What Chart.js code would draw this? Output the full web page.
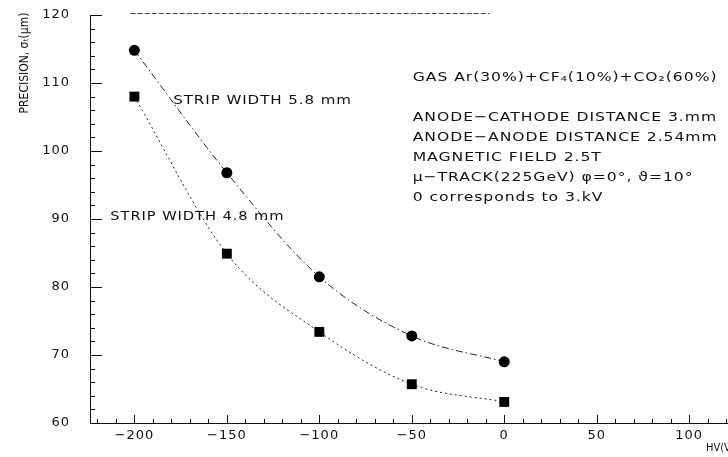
<!DOCTYPE html>
<html>
<head>
<meta charset="utf-8">
<script src="https://cdn.jsdelivr.net/npm/chart.js@4"></script>
<style>
  html, body { margin: 0; padding: 0; background: #fff; }
  #wrap { width: 728px; height: 457px; }
</style>
</head>
<body>
<div id="wrap"><canvas id="precisionChart" width="728" height="457"></canvas></div>
<script>
// HV offset in volts (0 corresponds to 3 kV)
const hv = [-200, -150, -100, -50, 0];
// precision sigma in microns for the two strip widths
const strip58 = [114.8, 96.8, 81.5, 72.8, 69.0];
const strip48 = [108.0, 84.9, 73.4, 65.7, 63.1];
const xTicks = [-200, -150, -100, -50, 0, 50, 100];
const yTicks = [60, 70, 80, 90, 100, 110, 120];
const seriesNames = ["STRIP WIDTH 5.8 mm", "STRIP WIDTH 4.8 mm"];
const conditions = [
  "GAS Ar(30%)+CF\u2084(10%)+CO\u2082(60%)",
  "ANODE\u2212CATHODE DISTANCE 3.mm",
  "ANODE\u2212ANODE DISTANCE 2.54mm",
  "MAGNETIC FIELD 2.5T",
  "\u03bc\u2212TRACK(225GeV) \u03c6=0\u00b0, \u03d1=10\u00b0",
  "0 corresponds to 3.kV"
];

const INK = "#111";
const FONT = "'DejaVu Sans', Verdana, sans-serif";

// draws text stretched horizontally
function wideText(ctx, text, x, y, sx) {
  ctx.save();
  ctx.translate(x, y);
  ctx.scale(sx, 1);
  ctx.fillText(text, 0, 0);
  ctx.restore();
}

// strip the automatic label padding so the plot box stays where we put it
function noPad(s) {
  s.paddingLeft = s.paddingRight = s.paddingTop = s.paddingBottom = 0;
}

const frameMarks = {
  id: "frameMarks",
  beforeDraw(chart) {
    chart.ctx.letterSpacing = "1px";
  },
  afterDraw(chart) {
    const { ctx, chartArea: a, scales: { x, y } } = chart;
    ctx.save();
    ctx.strokeStyle = INK;
    ctx.lineWidth = 1;

    // inward ticks on both axes
    ctx.beginPath();
    for (let v = 60; v <= 120; v += 2) {
      const py = Math.round(y.getPixelForValue(v)) + 0.5;
      const len = v % 10 === 0 ? 12 : 5;
      ctx.moveTo(a.left, py);
      ctx.lineTo(a.left + len, py);
    }
    for (let v = -220; v <= 120; v += 10) {
      const px = Math.round(x.getPixelForValue(v)) + 0.5;
      const len = v % 50 === 0 ? 8 : 4;
      ctx.moveTo(px, a.bottom);
      ctx.lineTo(px, a.bottom - len);
    }
    ctx.stroke();

    // broken top frame line
    ctx.strokeStyle = "#444";
    ctx.setLineDash([5, 2]);
    ctx.beginPath();
    ctx.moveTo(x.getPixelForValue(-202), a.top - 1.5);
    ctx.lineTo(x.getPixelForValue(-8), a.top - 1.5);
    ctx.stroke();
    ctx.setLineDash([]);

    ctx.fillStyle = INK;
    ctx.textBaseline = "middle";
    ctx.textAlign = "left";
    ctx.letterSpacing = "0.8px";
    ctx.font = "13px " + FONT;

    // curve labels
    wideText(ctx, seriesNames[0], x.getPixelForValue(-179), y.getPixelForValue(107.4), 1.16);
    wideText(ctx, seriesNames[1], x.getPixelForValue(-213), y.getPixelForValue(90.3), 1.13);

    // run conditions block
    const bx = x.getPixelForValue(-49.5);
    conditions.forEach((line, i) => {
      const py = a.top + 63 + (i === 0 ? 0 : 20 + 20 * i);
      wideText(ctx, line, bx, py, 1.2);
    });

    // axis titles
    ctx.letterSpacing = "0px";
    ctx.font = "11px 'DejaVu Sans Condensed', 'Liberation Sans Narrow', sans-serif";
    ctx.fillText("HV(V)", 706, 448);
    ctx.save();
    ctx.translate(25, 63);
    ctx.rotate(-Math.PI / 2);
    ctx.textAlign = "center";
    ctx.font = "12px 'DejaVu Sans Condensed', 'Liberation Sans Narrow', sans-serif";
    ctx.fillText("PRECISION, \u03c3\u209c(\u03bcm)", 0, 0);
    ctx.restore();

    ctx.restore();
  }
};

const ctx = document.getElementById("precisionChart").getContext("2d");

new Chart(ctx, {
  type: "line",
  data: {
    datasets: [
      {
        label: seriesNames[0],
        data: hv.map((h, i) => ({ x: h, y: strip58[i] })),
        borderColor: "#222",
        borderWidth: 1,
        borderDash: [7, 3, 1.5, 3],
        cubicInterpolationMode: "monotone",
        pointStyle: "circle",
        pointRadius: 5.5,
        pointBackgroundColor: "#000",
        pointBorderColor: "#000",
        pointBorderWidth: 0
      },
      {
        label: seriesNames[1],
        data: hv.map((h, i) => ({ x: h, y: strip48[i] })),
        borderColor: "#222",
        borderWidth: 1,
        borderDash: [2, 3],
        cubicInterpolationMode: "monotone",
        pointStyle: "rect",
        pointRadius: 7,
        pointBackgroundColor: "#000",
        pointBorderColor: "#000",
        pointBorderWidth: 0
      }
    ]
  },
  options: {
    responsive: false,
    animation: false,
    devicePixelRatio: 1,
    layout: { autoPadding: false, padding: { top: 15, right: 0, left: 0, bottom: 0 } },
    plugins: {
      legend: { display: false },
      tooltip: { enabled: false }
    },
    scales: {
      x: {
        type: "linear",
        min: -224,
        max: 121,
        afterBuildTicks: (s) => { s.ticks = xTicks.map((v) => ({ value: v })); },
        afterFit: (s) => { s.height = 34; noPad(s); },
        grid: { display: false, drawTicks: false },
        border: { display: true, color: INK, width: 1 },
        ticks: {
          padding: 5,
          color: INK,
          maxRotation: 0,
          font: { family: FONT, size: 13 },
          callback: (v) => String(v).replace("-", "\u2212")
        }
      },
      y: {
        type: "linear",
        min: 60,
        max: 120,
        afterBuildTicks: (s) => { s.ticks = yTicks.map((v) => ({ value: v })); },
        afterFit: (s) => { s.width = 90; noPad(s); },
        grid: { display: false, drawTicks: false },
        border: { display: true, color: INK, width: 1 },
        ticks: {
          padding: 20,
          color: INK,
          font: { family: FONT, size: 13 }
        }
      }
    }
  },
  plugins: [frameMarks]
});
</script>
</body>
</html>
